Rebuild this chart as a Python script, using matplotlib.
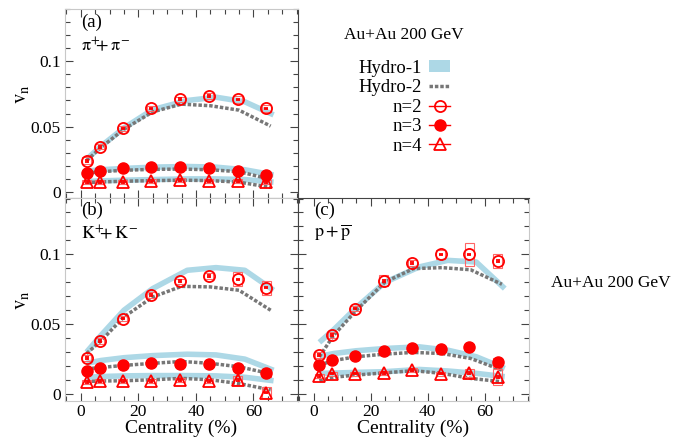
import matplotlib
matplotlib.use("Agg")
import matplotlib.pyplot as plt
from matplotlib.lines import Line2D
from matplotlib.patches import Patch
from matplotlib.ticker import MultipleLocator

plt.rcParams['font.family'] = ['Liberation Serif', 'DejaVu Serif']
plt.rcParams['mathtext.fontset'] = 'stix'

# centrality of data points and of the two hydro curves
cent = [2, 6.5, 14.5, 24.5, 34.5, 44.5, 54.5, 64.5]
h1_x = [2, 7, 15, 25, 37, 47, 57, 67]
h2_x = [2, 7, 15, 25, 35, 45, 55, 66]

# (a) pi+ + pi-
pi_v2 = [0.0239, 0.0346, 0.0486, 0.0639, 0.0710, 0.0735, 0.0708, 0.0639]
pi_v3 = [0.0143, 0.0160, 0.0181, 0.0193, 0.0193, 0.0181, 0.0163, 0.0130]
pi_v4 = [0.0078, 0.0078, 0.0078, 0.0086, 0.0090, 0.0086, 0.0086, 0.0078]
pi_sys2 = [0.0025, 0.002, 0.002, 0.002, 0.002, 0.002, 0.003, 0.0025]
pi_sys3 = [0.001, 0.001, 0.001, 0.001, 0.001, 0.001, 0.0012, 0.0012]
pi_sys4 = [0.0015, 0.0015, 0.0015, 0.0015, 0.0015, 0.0015, 0.0015, 0.0015]
pi_h1 = [[0.025, 0.035, 0.049, 0.063, 0.070, 0.0725, 0.069, 0.059],
         [0.016, 0.017, 0.018, 0.019, 0.0195, 0.019, 0.017, 0.013],
         [0.008, 0.0085, 0.009, 0.0095, 0.010, 0.010, 0.0095, 0.0075]]
pi_h2 = [[0.024, 0.034, 0.048, 0.0613, 0.0672, 0.066, 0.0626, 0.0504],
         [0.0143, 0.0155, 0.0166, 0.0173, 0.0175, 0.017, 0.0155, 0.0097],
         [0.0072, 0.0077, 0.0082, 0.0087, 0.009, 0.0087, 0.0075, 0.0035]]

# (b) K+ + K-
k_v2 = [0.0259, 0.0381, 0.0540, 0.0707, 0.0807, 0.0845, 0.0821, 0.0762]
k_v3 = [0.0167, 0.0188, 0.0205, 0.0219, 0.0214, 0.0214, 0.0183, 0.0152]
k_v4 = [0.0086, 0.0093, 0.0091, 0.0091, 0.0098, 0.0091, 0.0098, 0.0010]
k_sys2 = [0.002, 0.002, 0.002, 0.002, 0.002, 0.002, 0.005, 0.005]
k_sys3 = [0.001, 0.001, 0.001, 0.001, 0.001, 0.001, 0.002, 0.003]
k_sys4 = [0.0015, 0.0015, 0.0015, 0.0015, 0.0015, 0.0015, 0.003, 0.004]
k_h1 = [[0.030, 0.042, 0.060, 0.0755, 0.0886, 0.0905, 0.0886, 0.0743],
        [0.022, 0.024, 0.026, 0.0275, 0.0285, 0.028, 0.025, 0.017],
        [0.012, 0.0125, 0.013, 0.0132, 0.0132, 0.013, 0.012, 0.0095]]
k_h2 = [[0.029, 0.038, 0.0552, 0.0695, 0.0771, 0.0767, 0.0743, 0.060],
        [0.018, 0.019, 0.0205, 0.022, 0.0233, 0.022, 0.0195, 0.0145],
        [0.009, 0.0093, 0.0095, 0.0102, 0.0112, 0.0102, 0.0075, 0.003]]

# (c) p + pbar
p_v2 = [0.0279, 0.0421, 0.0612, 0.0810, 0.0940, 0.1000, 0.1000, 0.0952]
p_v3 = [0.0207, 0.0243, 0.0274, 0.0307, 0.0326, 0.0324, 0.0338, 0.0226]
p_v4 = [0.0129, 0.0146, 0.0146, 0.0150, 0.0174, 0.0146, 0.0150, 0.0122]
p_sys2 = [0.002, 0.002, 0.002, 0.004, 0.002, 0.003, 0.008, 0.005]
p_sys3 = [0.0015, 0.0015, 0.0015, 0.0015, 0.0015, 0.0015, 0.002, 0.003]
p_sys4 = [0.0015, 0.0015, 0.0015, 0.0015, 0.0015, 0.0015, 0.003, 0.006]
p_h1 = [[0.037, 0.046, 0.062, 0.080, 0.091, 0.0957, 0.0945, 0.0755],
        [0.027, 0.029, 0.031, 0.0326, 0.0338, 0.0314, 0.0267, 0.0183],
        [0.0148, 0.015, 0.0155, 0.016, 0.0176, 0.0165, 0.0148, 0.0124]]
p_h2 = [[0.0267, 0.042, 0.060, 0.0802, 0.0898, 0.0905, 0.089, 0.0786],
        [0.0207, 0.024, 0.0267, 0.0286, 0.0298, 0.029, 0.0255, 0.0171],
        [0.0095, 0.012, 0.0136, 0.0152, 0.0167, 0.0148, 0.0112, 0.0088]]

RED = '#ff0000'
BLUE = '#add8e6'
GRAY = '#777777'
LIGHT = '#c8c8c8'
DARK = '#444444'

W, H = 700, 442
fig = plt.figure(figsize=(7, 4.42), dpi=100)


def box(l, t, r, b):
    return [l / W, 1 - b / H, (r - l) / W, (b - t) / H]


ax_a = fig.add_axes(box(65, 9, 298, 198.5))
ax_b = fig.add_axes(box(65, 198.5, 298, 401))
ax_c = fig.add_axes(box(298, 198.5, 529, 401))


def draw(ax, v2, v3, v4, s2, s3, s4, h1, h2):
    for y in h1:
        ax.plot(h1_x, y, color=BLUE, lw=4, solid_capstyle='butt', zorder=1)
    for y in h2:
        ax.plot(h2_x, y, color=GRAY, lw=2.5, ls=(0, (1, 0.55)), zorder=2)
    for v, s in [(v2, s2), (v3, s3), (v4, s4)]:
        ax.bar(cent, [2 * e for e in s], bottom=[a - e for a, e in zip(v, s)],
               width=3.2, fill=False, edgecolor='#ff6666', lw=0.8, zorder=3)
    ax.errorbar(cent, v2, yerr=0.0006, fmt='o', ms=8, mfc='none', mec=RED,
                mew=1.3, ecolor=RED, elinewidth=1, capsize=1.5, zorder=4)
    ax.errorbar(cent, v3, yerr=0.0006, fmt='o', ms=8, color=RED,
                ecolor=RED, elinewidth=1, capsize=1.5, zorder=4)
    ax.errorbar(cent, v4, yerr=0.0006, fmt='^', ms=8.5, mfc='none', mec=RED,
                mew=1.3, ecolor=RED, elinewidth=1, capsize=1.5, zorder=4)


draw(ax_a, pi_v2, pi_v3, pi_v4, pi_sys2, pi_sys3, pi_sys4, pi_h1, pi_h2)
draw(ax_b, k_v2, k_v3, k_v4, k_sys2, k_sys3, k_sys4, k_h1, k_h2)
draw(ax_c, p_v2, p_v3, p_v4, p_sys2, p_sys3, p_sys4, p_h1, p_h2)

for ax in (ax_a, ax_b, ax_c):
    ax.set_xlim(-5.5, 75.5)
    ax.set_ylim(-0.005, 0.14)
    ax.xaxis.set_major_locator(MultipleLocator(20))
    ax.xaxis.set_minor_locator(MultipleLocator(5))
    ax.yaxis.set_major_locator(MultipleLocator(0.05))
    ax.yaxis.set_minor_locator(MultipleLocator(0.01))
    ax.tick_params(which='both', direction='in', top=True, right=True,
                   color=DARK, width=0.8, labelsize=12.5, pad=3)
    ax.tick_params(axis='x', pad=2)
    ax.tick_params(which='major', length=6)
    ax.tick_params(which='minor', length=3.5)
    for sp in ax.spines.values():
        sp.set_color(LIGHT)
        sp.set_linewidth(0.8)

ax_a.spines['bottom'].set_color(DARK)
ax_a.spines['right'].set_color(DARK)
ax_b.spines['right'].set_color(DARK)
ax_c.spines['left'].set_color(DARK)
ax_c.spines['top'].set_color(DARK)

ax_a.tick_params(labelbottom=False)
ax_c.tick_params(labelleft=False)
ax_a.set_yticks([0, 0.05, 0.1], ['0', '0.05', '0.1'])
ax_b.set_yticks([0, 0.05, 0.1], ['0', '0.05', '0.1'])

ax_a.set_ylabel(r'$\mathrm{v_n}$', fontsize=15)
ax_a.yaxis.set_label_coords(-0.145, 0.55)
ax_b.set_ylabel(r'$\mathrm{v_n}$', fontsize=15)
ax_b.yaxis.set_label_coords(-0.145, 0.5)
for ax in (ax_b, ax_c):
    ax.set_xlabel('Centrality (%)', fontsize=14, labelpad=0)

ax_a.text(0.07, 0.93, '(a)', transform=ax_a.transAxes, fontsize=13.5, va='center')
ax_a.text(0.07, 0.81, r'$\mathrm{\pi^{+}\!\!\!+\pi^{-}}$', transform=ax_a.transAxes,
          fontsize=13, va='center')
ax_b.text(0.07, 0.94, '(b)', transform=ax_b.transAxes, fontsize=13.5, va='center')
ax_b.text(0.07, 0.83, r'$\mathrm{K^{+}\!\!\!+ K^{-}}$', transform=ax_b.transAxes,
          fontsize=13, va='center')
ax_c.text(0.07, 0.94, '(c)', transform=ax_c.transAxes, fontsize=13.5, va='center')
ax_c.text(0.07, 0.83, r'$\mathrm{p + \overline{p}}$', transform=ax_c.transAxes,
          fontsize=13, va='center')

fig.text(404 / W, 1 - 35 / H, 'Au+Au 200 GeV', fontsize=12.5, ha='center', va='center')
fig.text(611 / W, 1 - 283 / H, 'Au+Au 200 GeV', fontsize=12.5, ha='center', va='center')

handles = [
    Patch(facecolor=BLUE, edgecolor='none'),
    Line2D([], [], color=GRAY, lw=2.5, ls=(0, (1, 0.55))),
    Line2D([], [], color=RED, marker='o', ms=8, mfc='none', mew=1.3, lw=1),
    Line2D([], [], color=RED, marker='o', ms=8, lw=1),
    Line2D([], [], color=RED, marker='^', ms=8, mfc='none', mew=1.3, lw=1),
]
labels = ['Hydro-1', 'Hydro-2', 'n=2', 'n=3', 'n=4']
fig.legend(handles, labels, loc='upper right', bbox_to_anchor=(450 / W, 1 - 60 / H),
           markerfirst=False, frameon=False, fontsize=13.5, handlelength=1.1,
           handleheight=0.6, handletextpad=0.4, labelspacing=0.13,
           borderaxespad=0, borderpad=0)

fig.savefig('out.png', dpi=100)
